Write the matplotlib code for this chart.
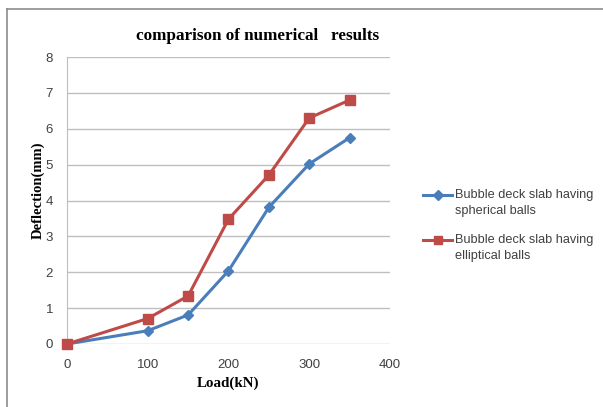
import matplotlib
matplotlib.use("Agg")
import matplotlib.pyplot as plt
from matplotlib.lines import Line2D

load = [0, 100, 150, 200, 250, 300, 350]
spherical = [0, 0.37, 0.81, 2.04, 3.81, 5.02, 5.75]
elliptical = [0, 0.71, 1.34, 3.48, 4.71, 6.30, 6.80]
labels = ["Bubble deck slab having\nspherical balls", "Bubble deck slab having\nelliptical balls"]
title = "comparison of numerical   results"

W, H = 603, 407
fig = plt.figure(figsize=(W/100, H/100), dpi=100)
ax = fig.add_axes([67/W, 63/H, (390-67)/W, (344-57)/H])

blue = "#4A7EBB"
red = "#BE4B48"
ax.plot(load, spherical, color=blue, lw=2.2, marker="D", ms=5.5, mfc=blue, mec=blue, label=labels[0], zorder=3, clip_on=False)
ax.plot(load, elliptical, color=red, lw=2.2, marker="s", ms=7.5, mfc=red, mec=red, label=labels[1], zorder=4, clip_on=False)

ax.set_xlim(0, 400)
ax.set_ylim(0, 8)
ax.set_xticks([0, 100, 200, 300, 400])
ax.set_yticks(range(0, 9))
ax.grid(axis="y", color="#BFBFBF", lw=1)
ax.set_axisbelow(True)
for s in ["top", "right", "bottom"]:
    ax.spines[s].set_visible(False)
ax.spines["left"].set_color("#BFBFBF")
ax.tick_params(axis="both", length=0, labelsize=9.5, colors="#404040", pad=10)
ax.tick_params(axis="x", pad=11)
for t in ax.get_xticklabels() + ax.get_yticklabels():
    t.set_family("Liberation Sans")

ax.set_xlabel("Load(kN)", family="Liberation Serif", fontweight="bold", fontsize=10.8)
ax.set_ylabel("Deflection(mm)", family="Liberation Serif", fontweight="bold", fontsize=10.5)
ax.xaxis.set_label_coords((228-67)/323, -(377-344)/287)
ax.yaxis.set_label_coords(-(67-45)/323, (344-190)/287)
fig.text(257.5/W, 1-36.5/H, title, family="Liberation Serif", fontweight="bold", fontsize=12.3, ha="center", va="center")

# legend (Excel style: handle aligned with first text line)
leg_rows = [195, 240]
for line, lab, y in zip(ax.lines, labels, leg_rows):
    yf = 1 - y/H
    fig.add_artist(Line2D([423/W, 452/W], [yf, yf], color=line.get_color(), lw=2.2,
                          transform=fig.transFigure))
    fig.add_artist(Line2D([437.5/W], [yf], color=line.get_color(), marker=line.get_marker(),
                          ms=5 if line.get_marker() == "D" else 6, lw=0, transform=fig.transFigure))
    fig.text(455/W, yf + 6/H, lab, family="Liberation Sans", fontsize=9.2, color="#404040",
             ha="left", va="top", linespacing=1.45)

fig.add_artist(Line2D([7/W, 1], [1-8.5/H, 1-8.5/H], color="#8C8C8C", lw=1.2, transform=fig.transFigure))
fig.add_artist(Line2D([7/W, 7/W], [0, 1-8.5/H], color="#8C8C8C", lw=1.2, transform=fig.transFigure))

fig.savefig("out.png", dpi=100)
